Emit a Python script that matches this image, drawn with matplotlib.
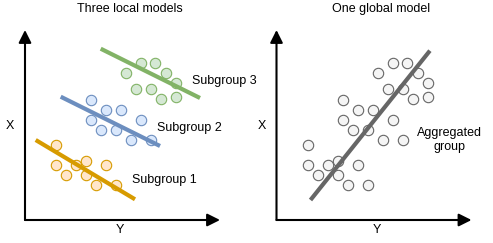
import matplotlib

matplotlib.use("Agg")

import matplotlib.pyplot as plt
import numpy as np

plt.rcParams["font.family"] = ["Liberation Sans", "DejaVu Sans"]

# point data (same units in both panels; origin of each panel at 0, 0)
sub1_x = [31, 31, 41, 51, 61, 61, 71, 81, 91]
sub1_y = [75, 55, 45, 55, 59, 45, 35, 55, 35]
sub2_x = [66, 81, 96, 66, 76, 91, 116, 106, 126]
sub2_y = [120, 110, 110, 100, 90, 90, 100, 80, 80]
sub3_x = [116, 130, 101, 141, 151, 111, 126, 136, 151]
sub3_y = [157, 157, 147, 147, 137, 131, 131, 121, 123]

# fitted lines (endpoints)
fit1_x, fit1_y = [10.7, 110], [80, 20.7]
fit2_x, fit2_y = [35.7, 135], [123.3, 74]
fit3_x, fit3_y = [75.7, 175], [171.3, 122]
fit_all_x, fit_all_y = [34, 153.4], [20, 169.3]

groups = [
    ("Subgroup 1", sub1_x, sub1_y, fit1_x, fit1_y, "#ffe6cc", "#d79b00", (107, 40)),
    ("Subgroup 2", sub2_x, sub2_y, fit2_x, fit2_y, "#dae8fc", "#6c8ebf", (132, 92)),
    ("Subgroup 3", sub3_x, sub3_y, fit3_x, fit3_y, "#d5e8d4", "#82b366", (167, 139)),
]

fig = plt.figure(figsize=(4.93, 2.43), dpi=100)
ax_left = fig.add_axes([0, 0, 0.5, 1])
ax_right = fig.add_axes([0.5, 0, 0.5, 1])
ax_left.set_xlim(-25, 221.5)
ax_right.set_xlim(-30, 216.5)
for ax in (ax_left, ax_right):
    ax.set_ylim(-23, 220)
    ax.axis("off")
    for tip in [(0, 190), (195, 0)]:
        ax.annotate("", xy=tip, xytext=(0, 0),
                    arrowprops=dict(arrowstyle="-|>", lw=1.5, color="black",
                                    mutation_scale=19, shrinkA=0, shrinkB=0))
    ax.text(-15, 94, "X", fontsize=9, ha="center", va="center")

ax_left.text(95, -10, "Y", fontsize=9, ha="center", va="center")
ax_right.text(100, -10, "Y", fontsize=9, ha="center", va="center")

# left: three local models
for name, xs, ys, lx, ly, fill, edge, pos in groups:
    ax_left.scatter(xs, ys, s=56, facecolor=fill, edgecolor=edge, linewidth=0.8, zorder=2)
    ax_left.plot(lx, ly, color=edge, lw=3, solid_capstyle="butt", zorder=3)
    ax_left.text(pos[0], pos[1], name, fontsize=9, ha="left", va="center")
ax_left.text(105, 211, "Three local models", fontsize=9, ha="center", va="center")

# right: one global model
all_x = np.concatenate([sub1_x, sub2_x, sub3_x])
all_y = np.concatenate([sub1_y, sub2_y, sub3_y])
ax_right.scatter(all_x, all_y, s=56, facecolor="#f5f5f5", edgecolor="#666666", linewidth=0.8, zorder=2)
ax_right.plot(fit_all_x, fit_all_y, color="#666666", lw=3, solid_capstyle="butt", zorder=3)
ax_right.text(173, 80, "Aggregated\ngroup", fontsize=9, ha="center", va="center", linespacing=1.3)
ax_right.text(104.5, 211, "One global model", fontsize=9, ha="center", va="center")

fig.savefig("out.png", dpi=100)
